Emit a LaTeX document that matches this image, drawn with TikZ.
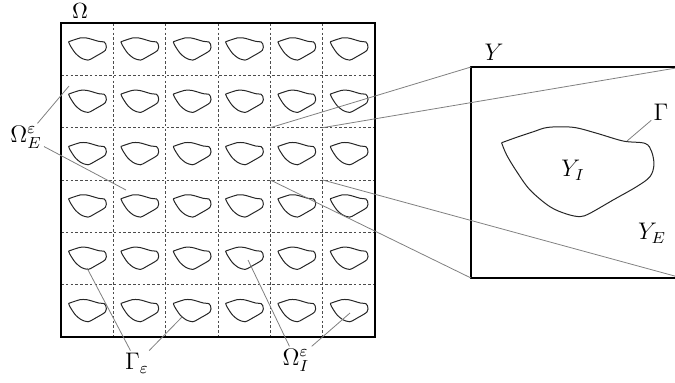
\documentclass[tikz,border=0pt]{standalone}
\usepackage{amsmath}
\usetikzlibrary{positioning,calc}

\begin{document}
\begin{tikzpicture}[
  x=0.5pt,y=-0.5pt,
  box/.style={draw,line width=1.4pt,inner sep=0pt,outer sep=0pt,anchor=north west},
  grid line/.style={black!70,line width=0.45pt,dash pattern=on 1.3pt off 1.1pt},
  incl line/.style={black!85,line width=0.5pt},
  leader/.style={gray,line width=0.4pt},
  lbl/.style={inner sep=1pt,font=\fontsize{12}{14}\selectfont},
  incl/.pic={
    \draw[incl line] plot[smooth,tension=0.55] coordinates {
      (0.145,0.359) (0.217,0.333) (0.295,0.307) (0.366,0.286) (0.485,0.286)
      (0.596,0.314) (0.722,0.351) (0.825,0.362) (0.856,0.401) (0.867,0.464)
      (0.848,0.520) (0.785,0.567) (0.674,0.630) (0.564,0.693) (0.517,0.709)
      (0.454,0.697) (0.374,0.662) (0.280,0.583) (0.217,0.496) (0.169,0.417)
      (0.145,0.359)};
  }
]
\useasboundingbox (0,0) rectangle (675,382);
\clip (0,0) rectangle (675,382);

% periodic cells of Omega
\foreach \i in {0,...,6}
  \foreach \j in {0,...,6}
    \coordinate (g-\i-\j) at ({61+52.33*\i},{23+52.33*\j});
\foreach \k in {1,...,5} {
  \draw[grid line] (g-\k-0) -- (g-\k-6);
  \draw[grid line] (g-0-\k) -- (g-6-\k);
}
\foreach \i in {0,...,5}
  \foreach \j in {0,...,5}
    \pic[scale=52.33] at (g-\i-\j) {incl};
\node[box,minimum size=157pt] (obox) at (g-0-0) {};

% reference cell Y
\node[box,minimum size=105.5pt] (ybox) at (471,67) {};
\pic[scale=211] at (ybox.north west) {incl};

% zoom lines
\draw[leader] (g-4-2) -- (ybox.north west);
\draw[leader] (g-5-2) -- (ybox.north east);
\draw[leader] (g-4-3) -- (ybox.south west);
\draw[leader] (g-5-3) -- (ybox.south east);

% labels
\node[lbl,font=\fontsize{11}{13}\selectfont] (omega) at (80,11) {$\Omega$};
\node[lbl] (omegaE) at (26,137) {$\Omega_E^\varepsilon$};
\node[lbl] (gammaeps) at (137,363) {$\Gamma_\varepsilon$};
\node[lbl] (omegaI) at (296,360) {$\Omega_I^\varepsilon$};
\node[lbl] (ylab) at (494,52) {$Y$};
\node[lbl] (gamma) at (661,112) {$\Gamma$};
\node[lbl] (yI) at (573,170) {$Y_I$};
\node[lbl] (yE) at (652,233) {$Y_E$};

\coordinate (pE1) at (69,86);
\coordinate (pE2) at (126,190);
\coordinate (pG1) at (87,268);
\coordinate (pG2) at (182,317);
\coordinate (pI1) at (248,260);
\coordinate (pI2) at (350,313);
\coordinate (pY) at (627,141);

\draw[leader] (omegaE) -- (pE1);
\draw[leader] (omegaE) -- (pE2);
\draw[leader] (gammaeps) -- (pG1);
\draw[leader] (gammaeps) -- (pG2);
\draw[leader] (omegaI) -- (pI1);
\draw[leader] (omegaI) -- (pI2);
\draw[leader] (gamma) -- (pY);
\end{tikzpicture}
\end{document}
